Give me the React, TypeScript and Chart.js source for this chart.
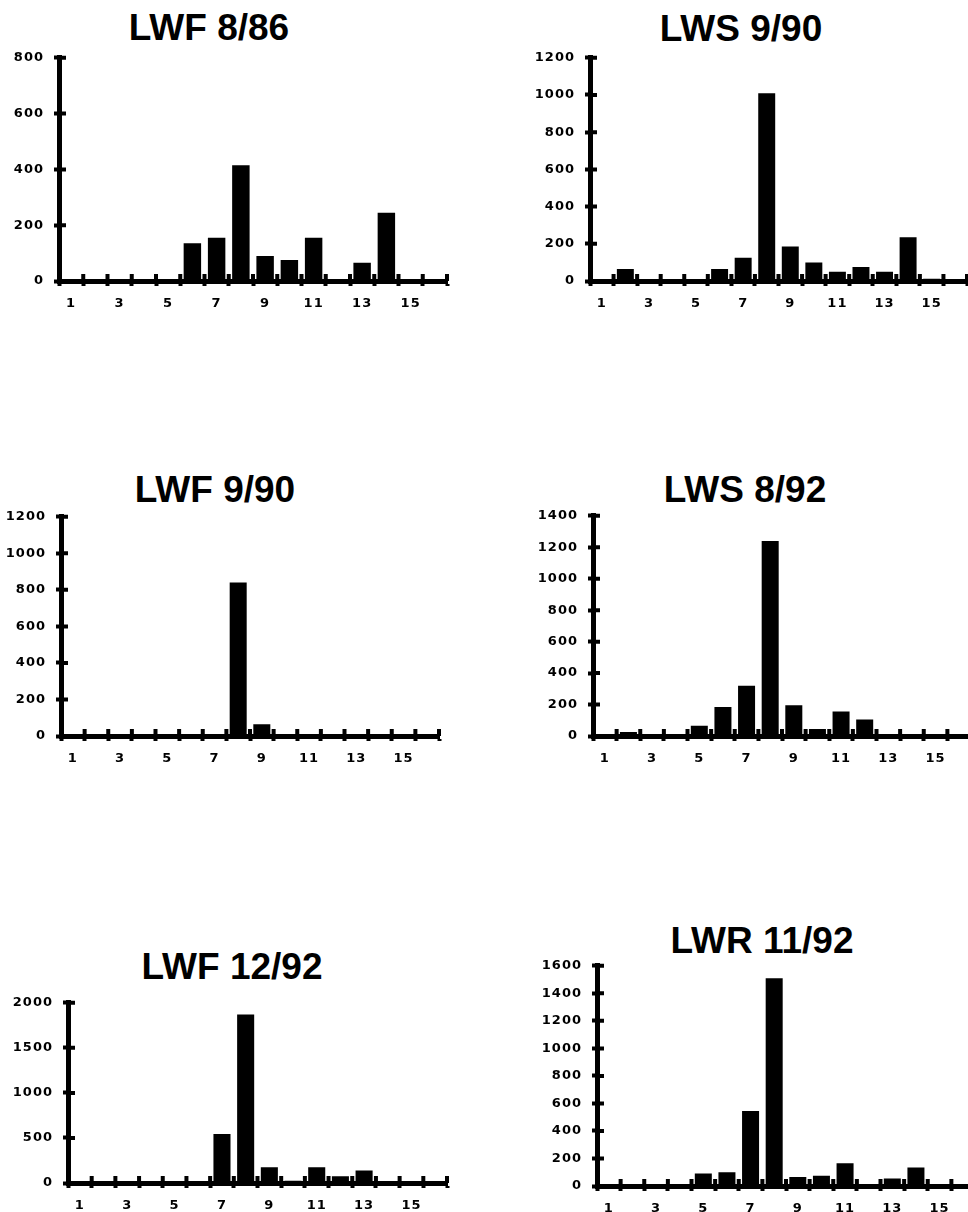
import React, { useEffect, useRef } from 'react';
import { Chart, registerables } from 'chart.js';

Chart.register(...registerables);

// ---------- data ----------
const categories = ['1', '2', '3', '4', '5', '6', '7', '8', '9', '10', '11', '12', '13', '14', '15', '16'];

const titles = ['LWF 8/86', 'LWS 9/90', 'LWF 9/90', 'LWS 8/92', 'LWF 12/92', 'LWR 11/92'];

const lwf886 = [0, 0, 0, 0, 0, 135, 155, 415, 90, 75, 155, 5, 65, 245, 0, 0];
const lws990 = [0, 65, 0, 0, 0, 65, 125, 1010, 185, 100, 50, 75, 50, 235, 12, 5];
const lwf990 = [0, 0, 0, 0, 0, 0, 0, 840, 65, 0, 10, 0, 0, 0, 0, 0];
const lws892 = [0, 25, 0, 0, 65, 185, 320, 1240, 195, 45, 155, 105, 0, 10, 0, 5];
const lwf1292 = [0, 0, 0, 0, 0, 0, 545, 1870, 175, 25, 175, 75, 140, 0, 0, 0];
const lwr1192 = [0, 0, 0, 0, 90, 100, 545, 1510, 65, 75, 165, 0, 55, 135, 0, 0];

const yMaxes = [800, 1200, 1200, 1400, 2000, 1600];
const ySteps = [200, 200, 200, 200, 500, 200];

const seriesList = [lwf886, lws990, lwf990, lws892, lwf1292, lwr1192];

// ---------- layout (page pixels) ----------
const layouts = [
  { axisX: 59, axisTop: 52, zeroY: 281, rightX: 447, titleCx: 209, titleCy: 28 },
  { axisX: 590, axisTop: 52, zeroY: 281, rightX: 967, titleCx: 741, titleCy: 29 },
  { axisX: 61, axisTop: 511, zeroY: 736, rightX: 439, titleCx: 215, titleCy: 490 },
  { axisX: 593, axisTop: 510, zeroY: 736, rightX: 971, titleCx: 745, titleCy: 490 },
  { axisX: 68, axisTop: 997, zeroY: 1183, rightX: 447, titleCx: 232, titleCy: 967 },
  { axisX: 597, axisTop: 960, zeroY: 1186, rightX: 975, titleCx: 762, titleCy: 941 },
];

const Y_W = 56;
const PAD_TOP = 12;
const PAD_RIGHT = 8;
const X_H = 34;
const FONT = { family: 'DejaVu Sans', size: 13, weight: 'bold' as const };

const crossTicks = {
  id: 'crossTicks',
  beforeDraw(chart: any) {
    (chart.ctx as any).letterSpacing = '1px';
  },
  afterDatasetsDraw(chart: any) {
    const { ctx, chartArea, scales } = chart;
    const ys = scales.y;
    const xs = scales.x;
    ctx.save();
    ctx.strokeStyle = '#000';
    ctx.lineWidth = 4;
    ctx.beginPath();
    ys.ticks.forEach((t: any) => {
      const py = ys.getPixelForValue(t.value);
      ctx.moveTo(chartArea.left, py);
      ctx.lineTo(chartArea.left + 7, py);
    });
    const n = xs.ticks.length;
    const half = (xs.getPixelForValue(1) - xs.getPixelForValue(0)) / 2;
    for (let i = 0; i <= n; i++) {
      const px = i < n ? xs.getPixelForValue(i) - half : xs.getPixelForValue(n - 1) + half;
      ctx.moveTo(px, chartArea.bottom);
      ctx.lineTo(px, chartArea.bottom - 7);
    }
    ctx.stroke();
    ctx.restore();
  },
};

function Panel({ idx }: { idx: number }) {
  const ref = useRef<HTMLCanvasElement | null>(null);
  const L = layouts[idx];
  const left = L.axisX - Y_W;
  const top = L.axisTop - PAD_TOP;
  const width = L.rightX + PAD_RIGHT - left;
  const height = L.zeroY + X_H - top;

  useEffect(() => {
    if (!ref.current) return;
    const chart = new Chart(ref.current, {
      type: 'bar',
      data: {
        labels: categories,
        datasets: [
          {
            data: seriesList[idx],
            backgroundColor: '#000',
            borderWidth: 0,
            barPercentage: 0.72,
            categoryPercentage: 1,
          },
        ],
      },
      options: {
        animation: false,
        responsive: false,
        devicePixelRatio: 1,
        layout: { padding: { top: PAD_TOP, right: PAD_RIGHT, left: 0, bottom: 0 } },
        plugins: { legend: { display: false }, tooltip: { enabled: false }, title: { display: false } },
        scales: {
          x: {
            type: 'category',
            offset: true,
            grid: {
              offset: true,
              drawOnChartArea: false,
              drawTicks: true,
              tickLength: 5,
              tickWidth: 4,
              tickColor: '#000',
            },
            border: { display: true, color: '#000', width: 5 },
            ticks: {
              autoSkip: false,
              maxRotation: 0,
              minRotation: 0,
              padding: 10,
              color: '#000',
              font: FONT,
              callback: (_v: any, i: number) => (i % 2 === 0 ? categories[i] : ''),
            },
            afterFit: (s: any) => {
              s.height = X_H;
            },
          },
          y: {
            min: 0,
            max: yMaxes[idx],
            grid: {
              drawOnChartArea: false,
              drawTicks: true,
              tickLength: 5,
              tickWidth: 4,
              tickColor: '#000',
            },
            border: { display: true, color: '#000', width: 5 },
            ticks: {
              stepSize: ySteps[idx],
              padding: 10,
              color: '#000',
              font: FONT,
              callback: (v: any) => String(v),
            },
            afterFit: (s: any) => {
              s.width = Y_W;
            },
          },
        },
      },
      plugins: [crossTicks],
    } as any);
    return () => chart.destroy();
  }, [idx]);

  return (
    <>
      <div
        style={{
          position: 'absolute',
          left: L.titleCx - 150,
          top: L.titleCy - 20,
          width: 300,
          lineHeight: '40px',
          textAlign: 'center',
          fontFamily: "'Liberation Sans', Arial, sans-serif",
          fontWeight: 'bold',
          fontSize: 37,
          color: '#000',
          whiteSpace: 'nowrap',
        }}
      >
        {titles[idx]}
      </div>
      <canvas
        ref={ref}
        width={width}
        height={height}
        style={{ position: 'absolute', left, top, width, height }}
      />
    </>
  );
}

export default function App() {
  return (
    <div
      style={{
        position: 'absolute',
        left: 0,
        top: 0,
        width: 968,
        height: 1212,
        overflow: 'hidden',
        background: '#fff',
      }}
    >
      {titles.map((_, i) => (
        <Panel key={i} idx={i} />
      ))}
    </div>
  );
}
